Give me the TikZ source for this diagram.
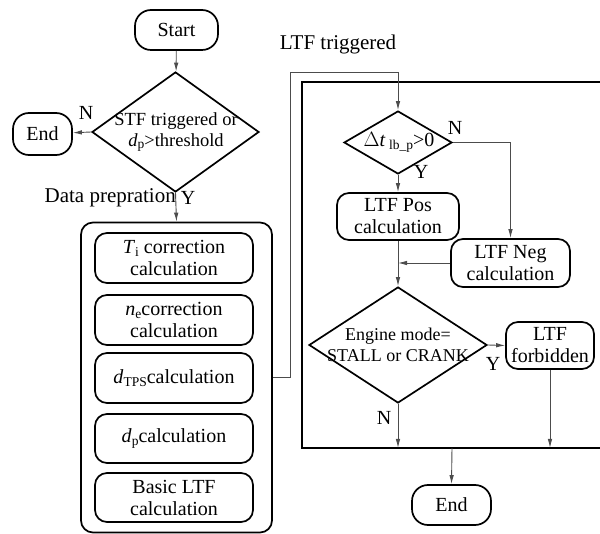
\documentclass[tikz,border=0pt]{standalone}
\usepackage{fontspec}
\setmainfont{Liberation Serif}
\usetikzlibrary{shapes.geometric,arrows.meta}
\newcommand{\lowsub}[1]{\raisebox{-0.3ex}{\fontsize{13.5}{13.5}\selectfont #1}}
\begin{document}
\begin{tikzpicture}[x=1pt,y=-1pt,
 every node/.style={font=\fontsize{20}{22}\selectfont},
 box/.style={draw,line width=1.7pt,rounded corners=12pt,align=center,inner sep=0pt},
 dia/.style={draw,line width=1.7pt,diamond,inner sep=0pt},
 conn/.style={line width=0.9pt,draw=black!70},
 arr/.style={conn,-{Latex[length=9pt,width=4.5pt]}},
 lbl/.style={inner sep=0pt}]
\useasboundingbox (0,0) rectangle (600,534);
% left column
\node[box,rounded corners=16pt,minimum width=83pt,minimum height=40pt] (start) at (176.5,30) {Start};
\node[dia,minimum width=167pt,minimum height=120pt] (stf) at (175.5,132) {};
\node[lbl,align=center,font=\fontsize{18.5}{21}\selectfont] (stft) at (176,132) {STF triggered or\\\textit{d}\lowsub{p}>threshold};
\node[box,rounded corners=16pt,minimum width=59pt,minimum height=42pt] (end1) at (42.5,134) {End};
\node[box,rounded corners=12pt,minimum width=191pt,minimum height=310pt] (big) at (176.5,377.5) {};
\node[box,minimum width=158pt,minimum height=50pt] (ti) at (174,258) {\textit{T}\lowsub{i} correction\\calculation};
\node[box,minimum width=158pt,minimum height=50pt] (ne) at (174,320) {\textit{n}\lowsub{e}correction\\calculation};
\node[box,minimum width=158pt,minimum height=50pt] (dtps) at (174,378) {\textit{d}\lowsub{TPS}calculation};
\node[box,minimum width=158pt,minimum height=49pt] (dp) at (174,438.5) {\textit{d}\lowsub{p}calculation};
\node[box,minimum width=158pt,minimum height=49pt] (basic) at (174,497.5) {Basic LTF\\calculation};
% right frame
\draw[line width=1.9pt] (601,82) -- (302,82) -- (302,448) -- (601,448);
\coordinate (fb1) at (398,448);
\coordinate (fb2) at (452,448);
\coordinate (c1) at (290,72);
% right column
\node[dia,minimum width=108pt,minimum height=63pt] (delta) at (398,142.5) {};
\node[lbl] (deltat) at (399,142.5) {$\Delta$\textit{t}\,\lowsub{lb\_p}>0};
\node[box,minimum width=122pt,minimum height=47pt] (pos) at (398,216.5) {LTF Pos\\calculation};
\node[box,minimum width=119pt,minimum height=48pt] (neg) at (510.5,263) {LTF Neg\\calculation};
\node[dia,minimum width=178pt,minimum height=116pt] (eng) at (398,345) {};
\node[lbl,align=center,font=\fontsize{18}{21}\selectfont] (engt) at (398,345) {Engine mode=\\STALL or CRANK};
\node[box,minimum width=88pt,minimum height=47pt] (forb) at (550,345.5) {LTF\\forbidden};
\node[box,rounded corners=16pt,minimum width=79pt,minimum height=40pt] (end2) at (451.5,505) {End};
% connectors
\draw[arr] (start) -- (stf);
\draw[arr] (stf.west) -- (end1);
\draw[arr] (stf.south) -- (big.north);
\draw[arr] (big.east) -| (c1) -| (delta.north);
\draw[arr] (delta.south) -- (pos.north);
\draw[arr] (delta.east) -| (neg.north);
\draw[arr] (pos.south) -- (eng.north);
\draw[arr] (neg.west) -- (pos.south |- neg.west);
\draw[arr] (eng.east) -- (forb.west);
\draw[arr] (eng.south) -- (fb1);
\draw[arr] (forb.south) -- (forb.south |- fb1);
\draw[arr] (fb2) -- (end2.north);
% labels
\node[lbl] (ln1) at (86,113) {N};
\node[lbl,anchor=east,font=\fontsize{21}{22}\selectfont] (ldp) at (176,198) {Data prepration};
\node[lbl] (ly1) at (188,198) {Y};
\node[lbl,font=\fontsize{21}{22}\selectfont] (lltf) at (338,44) {LTF triggered};
\node[lbl] (ln2) at (455,128) {N};
\node[lbl] (ly2) at (421,172) {Y};
\node[lbl] (ly3) at (493,364) {Y};
\node[lbl] (ln3) at (384,418) {N};
\end{tikzpicture}
\end{document}
